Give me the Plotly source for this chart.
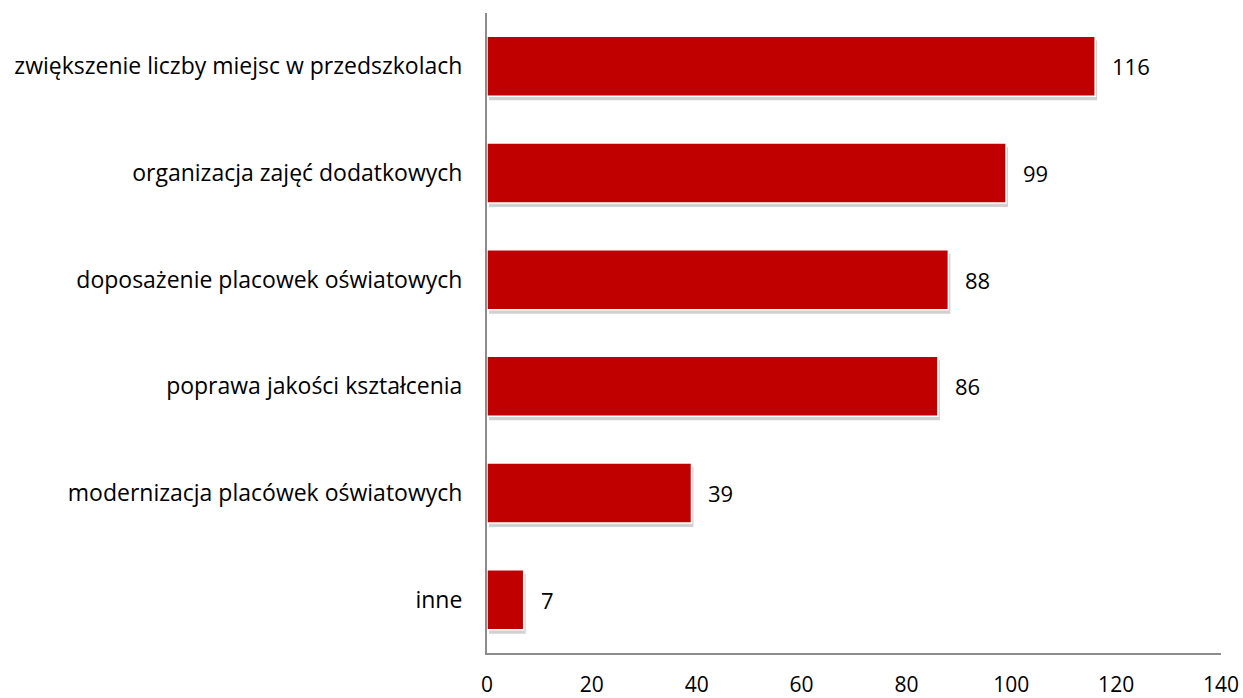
import plotly.graph_objects as go

# Dane
kategorie = [
    "zwiększenie liczby miejsc w przedszkolach",
    "organizacja zajęć dodatkowych",
    "doposażenie placowek oświatowych",
    "poprawa jakości kształcenia",
    "modernizacja placówek oświatowych",
    "inne",
]
wartosci = [116, 99, 88, 86, 39, 7]

FONT = "Open Sans, Noto Sans, sans-serif"
RED = "#C00000"
AXIS = "#8C8C8C"

X_MAX = 140
PX_PER_X = 734 / X_MAX        # szerokość obszaru wykresu / zakres
PX_PER_CAT = 640 / len(kategorie)

# przesunięcie cienia (px)
dx = 2 / PX_PER_X
dy = 4 / PX_PER_CAT

fig = go.Figure()

# ── Cień (oś bazowa, przesunięta) ─────────────────────────────────────
fig.add_trace(go.Bar(
    x=wartosci, y=kategorie, orientation="h",
    marker=dict(color="rgba(0,0,0,0.18)", line=dict(width=0)),
    hoverinfo="skip", showlegend=False,
    xaxis="x", yaxis="y",
))

# ── Słupki ────────────────────────────────────────────────────────────
fig.add_trace(go.Bar(
    x=wartosci, y=kategorie, orientation="h",
    marker=dict(color=RED, line=dict(color="white", width=1.5)),
    hoverinfo="x+y", showlegend=False,
    xaxis="x2", yaxis="y2",
))

# etykiety wartości
for k, v in zip(kategorie, wartosci):
    fig.add_annotation(
        x=v, y=k, xref="x2", yref="y2", text=str(v),
        showarrow=False, xanchor="left", xshift=15,
        font=dict(family=FONT, size=22, color="black"),
    )

n = len(kategorie)
fig.update_layout(
    width=1243, height=698,
    margin=dict(l=487, r=22, t=13, b=45),
    plot_bgcolor="white", paper_bgcolor="white",
    bargap=0.4375,
    font=dict(family=FONT, size=22, color="black"),
    xaxis=dict(range=[-dx, X_MAX - dx], visible=False, fixedrange=True),
    yaxis=dict(range=[n - 0.5 - dy, -0.5 - dy], visible=False,
               type="category", fixedrange=True),
    xaxis2=dict(
        overlaying="x", side="bottom", anchor="y2",
        range=[0, X_MAX], dtick=20, showgrid=False, zeroline=False,
        showline=True, linecolor=AXIS, linewidth=2,
        ticklabelstandoff=12, automargin=False,
        tickfont=dict(family=FONT, size=21, color="black"),
    ),
    yaxis2=dict(
        overlaying="y", side="left", anchor="x2", type="category",
        range=[n - 0.5, -0.5], showgrid=False, zeroline=False,
        showline=True, linecolor=AXIS, linewidth=2,
        ticklabelstandoff=18, automargin=False,
        tickfont=dict(family=FONT, size=23, color="black"),
    ),
)

fig.write_html(
    "out.html",
    config={"displayModeBar": False},
    post_script="document.body.style.margin='0';",
)
